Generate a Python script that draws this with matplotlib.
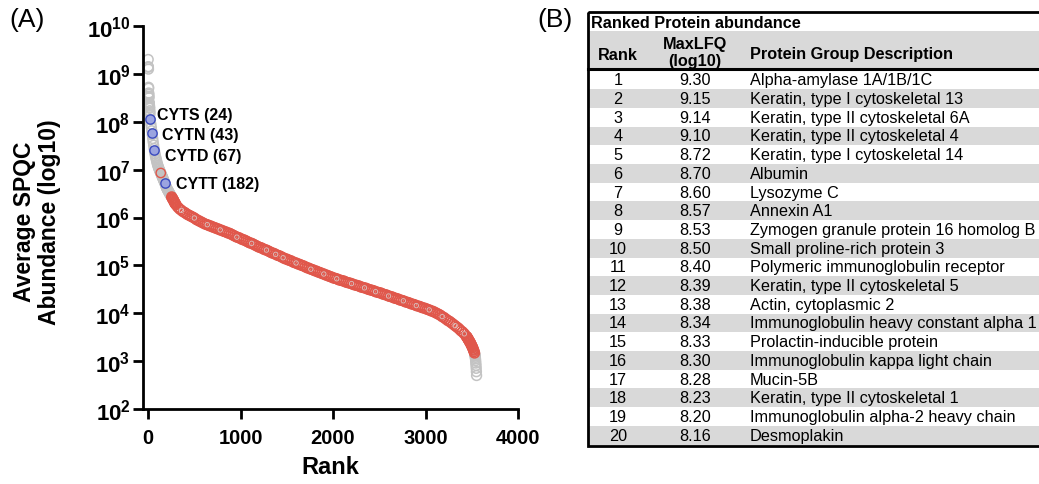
import numpy as np
import matplotlib
matplotlib.use('Agg')
import matplotlib.pyplot as plt
from matplotlib.patches import Rectangle
from matplotlib.ticker import FixedLocator, NullLocator

plt.rcParams['font.family'] = ['Liberation Sans', 'DejaVu Sans']
plt.rcParams['mathtext.fontset'] = 'custom'
plt.rcParams['mathtext.rm'] = 'Liberation Sans:bold'
plt.rcParams['mathtext.it'] = 'Liberation Sans:bold'
plt.rcParams['mathtext.bf'] = 'Liberation Sans:bold'

# ---------------- data ----------------
# Table (B): top 20 ranked proteins
table_ranks = [1, 2, 3, 4, 5, 6, 7, 8, 9, 10, 11, 12, 13, 14, 15, 16, 17, 18, 19, 20]
table_maxlfq = [9.30, 9.15, 9.14, 9.10, 8.72, 8.70, 8.60, 8.57, 8.53, 8.50,
                8.40, 8.39, 8.38, 8.34, 8.33, 8.30, 8.28, 8.23, 8.20, 8.16]
table_desc = [
    "Alpha-amylase 1A/1B/1C",
    "Keratin, type I cytoskeletal 13",
    "Keratin, type II cytoskeletal 6A",
    "Keratin, type II cytoskeletal 4",
    "Keratin, type I cytoskeletal 14",
    "Albumin",
    "Lysozyme C",
    "Annexin A1",
    "Zymogen granule protein 16 homolog B",
    "Small proline-rich protein 3",
    "Polymeric immunoglobulin receptor",
    "Keratin, type II cytoskeletal 5",
    "Actin, cytoplasmic 2",
    "Immunoglobulin heavy constant alpha 1",
    "Prolactin-inducible protein",
    "Immunoglobulin kappa light chain",
    "Mucin-5B",
    "Keratin, type II cytoskeletal 1",
    "Immunoglobulin alpha-2 heavy chain",
    "Desmoplakin",
]
table_title = "Ranked Protein abundance"
table_headers = ["Rank", "MaxLFQ\n(log10)", "Protein Group Description"]

ranks_seg2 = list(range(25, 301, 5))
log_abund_seg2 = [8.04, 7.95, 7.88, 7.81, 7.73, 7.65, 7.58, 7.51, 7.44, 7.38,
                  7.33, 7.28, 7.24, 7.20, 7.16, 7.12, 7.09, 7.06, 7.03, 7.01,
                  6.98, 6.96, 6.94, 6.91, 6.89, 6.87, 6.84, 6.82, 6.80, 6.77,
                  6.75, 6.73, 6.70, 6.67, 6.64, 6.62, 6.60, 6.58, 6.56, 6.55,
                  6.53, 6.51, 6.49, 6.48, 6.46, 6.44, 6.43, 6.41, 6.39, 6.38,
                  6.36, 6.34, 6.32, 6.30, 6.29, 6.27]
ranks_seg3 = list(range(320, 3441, 20))
log_abund_seg3 = [6.22, 6.18, 6.15, 6.12, 6.10, 6.07, 6.05, 6.03, 6.01, 5.99,
                  5.96, 5.94, 5.92, 5.90, 5.88, 5.86, 5.85, 5.83, 5.82, 5.80,
                  5.79, 5.77, 5.76, 5.74, 5.73, 5.71, 5.70, 5.68, 5.67, 5.65,
                  5.63, 5.61, 5.59, 5.58, 5.56, 5.54, 5.53, 5.51, 5.49, 5.47,
                  5.46, 5.44, 5.42, 5.40, 5.38, 5.37, 5.35, 5.33, 5.32, 5.30,
                  5.28, 5.26, 5.25, 5.23, 5.21, 5.20, 5.18, 5.16, 5.14, 5.13,
                  5.11, 5.10, 5.08, 5.06, 5.05, 5.03, 5.02, 5.00, 4.99, 4.97,
                  4.95, 4.94, 4.92, 4.91, 4.89, 4.88, 4.86, 4.85, 4.83, 4.82,
                  4.80, 4.79, 4.77, 4.76, 4.74, 4.73, 4.72, 4.70, 4.69, 4.68,
                  4.67, 4.65, 4.64, 4.63, 4.62, 4.60, 4.59, 4.58, 4.57, 4.55,
                  4.54, 4.53, 4.52, 4.50, 4.49, 4.48, 4.47, 4.45, 4.44, 4.43,
                  4.42, 4.40, 4.39, 4.38, 4.36, 4.35, 4.34, 4.32, 4.31, 4.30,
                  4.28, 4.27, 4.26, 4.24, 4.23, 4.22, 4.20, 4.19, 4.18, 4.16,
                  4.15, 4.14, 4.12, 4.11, 4.10, 4.08, 4.07, 4.05, 4.04, 4.02,
                  4.00, 3.98, 3.96, 3.93, 3.91, 3.88, 3.85, 3.83, 3.80, 3.77,
                  3.74, 3.71, 3.68, 3.64, 3.61, 3.57, 3.52]
ranks_seg4 = list(range(3445, 3531, 5)) + list(range(3532, 3553, 2))
log_abund_seg4 = [3.51, 3.50, 3.48, 3.46, 3.45, 3.43, 3.41, 3.40, 3.38, 3.36,
                  3.34, 3.32, 3.30, 3.28, 3.25, 3.23, 3.20, 3.17,
                  3.15, 3.13, 3.11, 3.08, 3.05, 3.01, 2.96, 2.91, 2.85, 2.78, 2.70]

# category boundaries (grey = outside the red-coloured set)
grey_top_last_rank = 250
grey_tail_first_rank = 3532
grey_inner_ranks = [360, 500, 640, 780, 960, 1120, 1280, 1380, 1460, 1600, 1760,
                    1900, 2040, 2200, 2340, 2460, 2600, 2760, 2900, 3040, 3180,
                    3320, 3420]
red_top_ranks = [137]
red_top_log = [6.93]

# highlighted proteins
hl_labels = ["CYTS (24)", "CYTN (43)", "CYTD (67)", "CYTT (182)"]
hl_ranks = [24, 43, 67, 182]
hl_log = [8.06, 7.77, 7.41, 6.72]
hl_offsets = [(5, 3), (7, -1), (8, -4), (8, 0)]

x_ticks = [0, 1000, 2000, 3000, 4000]
y_exponents = [2, 3, 4, 5, 6, 7, 8, 9, 10]

# ---------------- figure ----------------
W, H = 1039, 485
fig = plt.figure(figsize=(W / 100, H / 100), dpi=100)

RED = '#E0574B'
GREY = '#C3C3C3'

ax = fig.add_axes([143 / W, 1 - 410 / H, (518 - 143) / W, (410 - 27) / H])

all_ranks = np.array(table_ranks + ranks_seg2 + ranks_seg3 + ranks_seg4)
all_log = np.array(table_maxlfq + log_abund_seg2 + log_abund_seg3 + log_abund_seg4)
all_vals = 10 ** all_log

is_grey = (all_ranks <= grey_top_last_rank) | (all_ranks >= grey_tail_first_rank)
is_inner_grey = np.isin(all_ranks, grey_inner_ranks)

mk = dict(s=50, facecolors='none', linewidths=1.1)
ax.scatter(all_ranks[is_grey], all_vals[is_grey], edgecolors=GREY, zorder=2, **mk)
red_mask = ~is_grey
ax.scatter(all_ranks[red_mask], all_vals[red_mask], edgecolors=RED, zorder=3, **mk)
ax.scatter(all_ranks[is_inner_grey], all_vals[is_inner_grey], edgecolors='#D7C2C0', zorder=4,
           s=10, facecolors='none', linewidths=0.6)
ax.scatter(red_top_ranks, 10 ** np.array(red_top_log), edgecolors=RED, zorder=5,
           s=45, facecolors='none', linewidths=1.0)
ax.scatter(hl_ranks, 10 ** np.array(hl_log), s=45, facecolors='#9BA4E0',
           edgecolors='#3B4BBF', linewidths=1.0, zorder=6)
for lab, r, v, off in zip(hl_labels, hl_ranks, hl_log, hl_offsets):
    ax.annotate(lab, xy=(r, 10 ** v), xytext=off, textcoords='offset points',
                ha='left', va='center', fontsize=11.5, fontweight='bold', zorder=7)

ax.set_yscale('log')
ax.set_ylim(1e2, 1e10)
ax.set_xlim(-55, 4000)
ax.yaxis.set_major_locator(FixedLocator([10.0 ** e for e in y_exponents]))
ax.yaxis.set_minor_locator(NullLocator())
ax.set_yticklabels([r'$10^{%d}$' % e for e in y_exponents])
ax.set_xticks(x_ticks)
ax.set_xticklabels([str(t) for t in x_ticks])
for s in ['top', 'right']:
    ax.spines[s].set_visible(False)
for s in ['left', 'bottom']:
    ax.spines[s].set_linewidth(2.0)
ax.tick_params(axis='both', width=2.0, length=7)
ax.tick_params(axis='y', labelsize=16, pad=2)
ax.tick_params(axis='x', labelsize=14.5, pad=7)
for lbl in ax.get_xticklabels():
    lbl.set_fontweight('bold')
fig.text(330 / W, 1 - 468 / H, 'Rank', fontsize=17, fontweight='bold',
         ha='center', va='center')
fig.text(37 / W, 1 - 222 / H, 'Average SPQC\nAbundance (log10)', fontsize=16.5,
         fontweight='bold', rotation=90, ha='center', va='center', linespacing=1.1,
         multialignment='center')

fig.text(9 / W, 1 - 20 / H, '(A)', fontsize=19, ha='left', va='center')
fig.text(537 / W, 1 - 20 / H, '(B)', fontsize=19, ha='left', va='center')

# ---------------- table ----------------
tx = fig.add_axes([0, 0, 1, 1])
tx.set_xlim(0, W)
tx.set_ylim(H, 0)
tx.axis('off')

LG = '#D9D9D9'
box_l, box_r, box_t, box_b = 588, 1045, 13, 447
title_b = 32
head_b = 70
row_h = (box_b - 1.5 - (head_b + 1.5)) / len(table_ranks)
row0 = head_b + 1.5

tx.add_patch(Rectangle((box_l, title_b), box_r - box_l, head_b - title_b,
                       facecolor=LG, edgecolor='none'))
for i in range(len(table_ranks)):
    y0 = row0 + i * row_h
    if i % 2 == 1:
        tx.add_patch(Rectangle((box_l, y0), box_r - box_l, row_h,
                               facecolor=LG, edgecolor='none'))
tx.add_patch(Rectangle((box_l, box_t), box_r - box_l, box_b - box_t,
                       facecolor='none', edgecolor='black', linewidth=2.0))
tx.plot([box_l, box_r], [head_b, head_b], color='black', lw=2.2)

col_rank_x = 618
col_lfq_x = 695
col_desc_x = 750
fs = 11.7
tx.text(591, 24, table_title, fontsize=fs, fontweight='bold', ha='left', va='center')
tx.text(col_rank_x, 55, table_headers[0], fontsize=fs, fontweight='bold', ha='center', va='center')
tx.text(col_lfq_x, 53, table_headers[1], fontsize=fs, fontweight='bold', ha='center', va='center',
        linespacing=1.1)
tx.text(col_desc_x, 55, table_headers[2], fontsize=fs, fontweight='bold', ha='left', va='center')
for i, (r, v, d) in enumerate(zip(table_ranks, table_maxlfq, table_desc)):
    yc = row0 + (i + 0.5) * row_h
    tx.text(col_rank_x, yc, str(r), fontsize=fs, ha='center', va='center')
    tx.text(col_lfq_x, yc, '%.2f' % v, fontsize=fs, ha='center', va='center')
    tx.text(col_desc_x, yc, d, fontsize=fs, ha='left', va='center')

fig.savefig('out.png', dpi=100)
